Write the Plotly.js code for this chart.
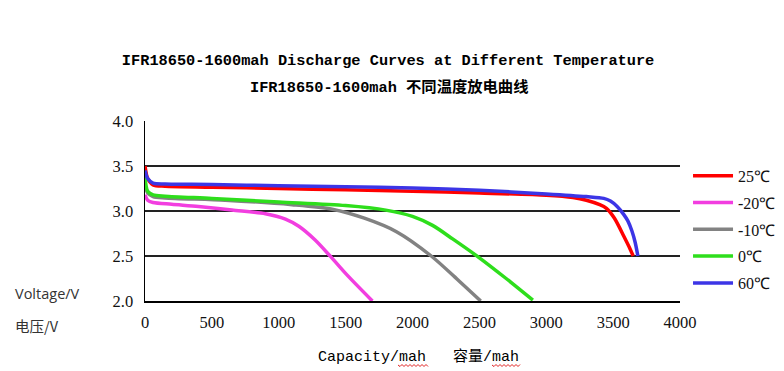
<!DOCTYPE html>
<html><head><meta charset="utf-8">
<script src="https://cdn.plot.ly/plotly-3.0.1.min.js"></script>
<style>html,body{margin:0;padding:0;background:#fff}#chart{width:784px;height:371px}</style>
</head><body><div id="chart"></div>
<script>
const seriesNames = ["25℃", "-20℃", "-10℃", "0℃", "60℃"];
const seriesColors = ["#ff0000", "#f23ee0", "#828282", "#2ede1c", "#3c35e6"];

const cap25 = [0, 20, 60, 150, 500, 1000, 1500, 2000, 2500, 3000, 3200, 3300, 3400, 3450, 3510, 3580, 3620, 3650];
const volt25 = [3.50, 3.36, 3.29, 3.275, 3.265, 3.25, 3.235, 3.22, 3.20, 3.175, 3.15, 3.12, 3.07, 3.03, 2.92, 2.72, 2.60, 2.50];

const capM20 = [0, 20, 60, 200, 400, 650, 900, 1050, 1150, 1270, 1390, 1510, 1700];
const voltM20 = [3.18, 3.12, 3.095, 3.075, 3.05, 3.01, 2.97, 2.91, 2.83, 2.68, 2.49, 2.29, 2.00];

const capM10 = [0, 20, 60, 150, 600, 1100, 1400, 1640, 1880, 2140, 2350, 2510];
const voltM10 = [3.30, 3.20, 3.16, 3.145, 3.12, 3.07, 3.02, 2.92, 2.77, 2.50, 2.22, 2.00];

const cap0 = [0, 20, 60, 150, 500, 1000, 1500, 1800, 2000, 2150, 2300, 2500, 2700, 2900];
const volt0 = [3.38, 3.22, 3.18, 3.165, 3.14, 3.10, 3.06, 3.01, 2.94, 2.84, 2.69, 2.48, 2.25, 2.01];

const cap60 = [0, 20, 60, 150, 500, 1000, 1500, 2000, 2500, 3000, 3300, 3430, 3480, 3530, 3580, 3610, 3640, 3665, 3685];
const volt60 = [3.45, 3.36, 3.31, 3.30, 3.295, 3.28, 3.27, 3.255, 3.23, 3.19, 3.16, 3.14, 3.11, 3.05, 2.96, 2.89, 2.78, 2.65, 2.50];

const xTicks = [0, 500, 1000, 1500, 2000, 2500, 3000, 3500, 4000];
const yTicks = [2.0, 2.5, 3.0, 3.5, 4.0];

const caps = [cap25, capM20, capM10, cap0, cap60];
const volts = [volt25, voltM20, voltM10, volt0, volt60];

const traces = seriesNames.map((n, i) => ({
  x: caps[i], y: volts[i], name: n, type: 'scatter', mode: 'lines',
  line: {color: seriesColors[i], width: 3.5, shape: 'spline', smoothing: 0.8},
  legendgroup: 'g' + i
}));

const serif = 'Liberation Serif';
const mono = '"Liberation Mono", "Noto Sans CJK SC", monospace';

// wavy underline decorations (spell-check marks) in paper coords
function wavy(px0, px1, py) {
  const toX = p => (p - 145) / 535, toY = p => (301 - p) / 180;
  let d = 'M ' + toX(px0) + ' ' + toY(py);
  let k = 0;
  for (let p = px0 + 2; p <= px1; p += 2, k++) {
    d += ' L ' + toX(p) + ' ' + toY(py + (k % 2 === 0 ? 1.5 : -0.5));
  }
  return {type: 'path', xref: 'paper', yref: 'paper', path: d, line: {color: '#e02020', width: 1}};
}

const layout = {
  width: 784, height: 371,
  font: {family: serif, size: 16.5, color: '#111'},
  margin: {l: 145, r: 104, t: 121, b: 70, autoexpand: false},
  paper_bgcolor: '#fff', plot_bgcolor: '#fff',
  showlegend: true,
  title: {text: '<b>IFR18650-1600mah Discharge Curves at Different Temperature</b>',
    font: {family: mono, size: 15.3, color: '#000'}, x: 0.495, xanchor: 'center',
    yref: 'container', y: 1 - 60 / 371, yanchor: 'middle'},
  xaxis: {range: [0, 4000], tickmode: 'array', tickvals: xTicks, ticktext: xTicks.map(String),
    showgrid: false, zeroline: false, showline: true, linecolor: '#000', linewidth: 1.5,
    ticks: '', ticklen: 0, automargin: false, ticklabelstandoff: 6,
    tickfont: {family: serif, size: 16.5, color: '#111'}},
  yaxis: {range: [2.0, 4.0], tickmode: 'array', tickvals: yTicks, ticktext: yTicks.map(v => v.toFixed(1)),
    showgrid: true, gridcolor: '#222', gridwidth: 1.2, zeroline: false, automargin: false,
    showline: true, linecolor: '#000', linewidth: 1.5, ticks: '', ticklen: 0, ticklabelstandoff: 7,
    tickfont: {family: serif, size: 16.5, color: '#111'}},
  legend: {x: 1.015, xanchor: 'left', y: 0.79, yanchor: 'top', tracegroupgap: 3, itemwidth: 40,
    font: {family: serif, size: 16, color: '#111'}, bgcolor: 'rgba(0,0,0,0)'},
  annotations: [
    {text: '<b>IFR18650-1600mah 不同温度放电曲线</b>', xref: 'paper', yref: 'paper',
     x: (389 - 145) / 535, y: (301 - 87) / 180, xanchor: 'center', yanchor: 'middle', showarrow: false,
     font: {family: mono, size: 15.3, color: '#000'}},
    {text: 'Voltage/V', xref: 'paper', yref: 'paper', x: (13 - 145) / 535, y: (301 - 293) / 180,
     xanchor: 'left', yanchor: 'middle', showarrow: false,
     font: {family: '"Open Sans", "Liberation Sans", sans-serif', size: 14.5, color: '#333'}},
    {text: '电压/V', xref: 'paper', yref: 'paper', x: (13 - 145) / 535, y: (301 - 325) / 180,
     xanchor: 'left', yanchor: 'middle', showarrow: false,
     font: {family: '"Noto Sans CJK SC", sans-serif', size: 14.5, color: '#333'}},
    {text: 'Capacity/mah\u00a0\u00a0\u00a0容量/mah', xref: 'paper', yref: 'paper',
     x: (418 - 145) / 535, y: (301 - 357) / 180, xanchor: 'center', yanchor: 'middle', showarrow: false,
     font: {family: mono, size: 15, color: '#000'}}
  ],
  shapes: [wavy(398, 428, 365), wavy(492, 520, 365)]
};

Plotly.newPlot('chart', traces, layout, {displayModeBar: false, staticPlot: true});
</script></body></html>
